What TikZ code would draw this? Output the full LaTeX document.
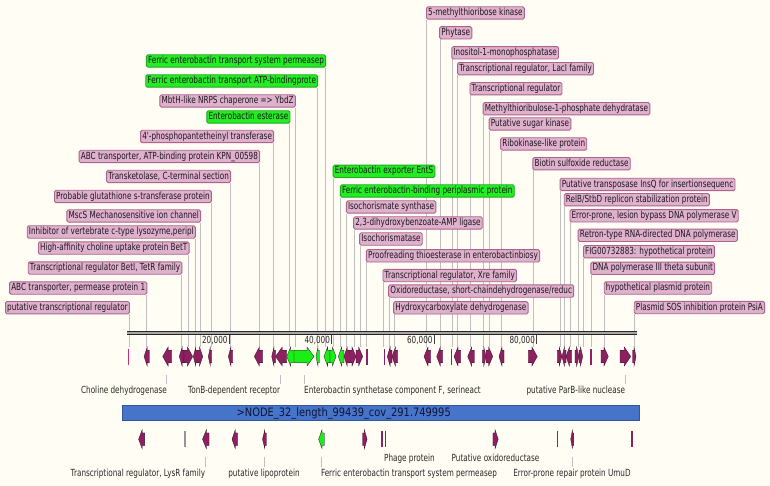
\documentclass[tikz,border=0pt]{standalone}
\usepackage{fontspec}
\newfontfamily\labfont{DejaVu Sans}[FakeStretch=0.74]
\newfontfamily\barfont{DejaVu Sans}[FakeStretch=0.85]
\definecolor{bg}{RGB}{255,253,244}
\definecolor{pinkfill}{RGB}{222,178,204}
\definecolor{pinkborder}{RGB}{172,98,138}
\definecolor{greenfill}{RGB}{34,236,34}
\definecolor{greenborder}{RGB}{30,170,30}
\definecolor{labtext}{RGB}{30,20,30}
\definecolor{genemag}{RGB}{140,32,96}
\definecolor{genepink}{RGB}{205,45,115}
\definecolor{genegreen}{RGB}{25,238,25}
\definecolor{genegray}{RGB}{150,150,150}
\definecolor{connc}{RGB}{192,192,192}
\definecolor{barblue}{RGB}{70,116,200}
\definecolor{barborder}{RGB}{50,85,160}
\definecolor{bartext}{RGB}{15,20,55}
\definecolor{trk}{RGB}{40,40,40}
\pgfdeclarelayer{back}
\pgfdeclarelayer{lines}
\pgfsetlayers{back,lines,main}
\tikzset{
  lab/.style={draw=pinkborder, fill=pinkfill, rounded corners=1.5pt, line width=0.9pt,
    inner xsep=1.7pt, inner ysep=1.6pt, text height=7.2pt, text depth=2pt,
    font=\labfont\fontsize{9.8}{11}\selectfont, text=labtext},
  grn/.style={draw=greenborder, fill=greenfill},
  conn/.style={draw=connc, line width=0.9pt},
  tlab/.style={inner sep=0pt, text height=7.2pt, text depth=2pt,
    font=\labfont\fontsize{9.8}{11}\selectfont, text=trk},
  gene/.style={draw=black!60!genemag, line width=0.3pt},
  tickline/.style={draw=black!75, line width=0.9pt},
}
% upper labels: line drops from right end / left end of box
\newcommand{\ulabE}[5]{%
  \node[lab,#4,anchor=east] (#1) at ({#2+0.8},#3) {#5};
  \coordinate (#1g) at (#2,347);
  \begin{pgfonlayer}{lines}\draw[conn] (#1.south east -| #1g) -- (#1g);\end{pgfonlayer}}
\newcommand{\ulabW}[5]{%
  \node[lab,#4,anchor=west] (#1) at ({#2-0.8},#3) {#5};
  \coordinate (#1g) at (#2,347);
  \begin{pgfonlayer}{lines}\draw[conn] (#1.south west -| #1g) -- (#1g);\end{pgfonlayer}}
% genes
\newcommand{\gR}[4]{%
  \pgfmathsetmacro{\ghl}{min(7,0.6*(#2-#1))}%
  \pgfmathsetmacro{\gm}{#2-\ghl}%
  \filldraw[gene,fill=#4] (#1,#3-6.3) -- (\gm,#3-6.3) -- (\gm,#3-9.5) -- (#2,#3) -- (\gm,#3+9.5) -- (\gm,#3+6.3) -- (#1,#3+6.3) -- cycle;}
\newcommand{\gL}[4]{%
  \pgfmathsetmacro{\ghl}{min(7,0.6*(#2-#1))}%
  \pgfmathsetmacro{\gm}{#1+\ghl}%
  \filldraw[gene,fill=#4] (#2,#3-6.3) -- (\gm,#3-6.3) -- (\gm,#3-9.5) -- (#1,#3) -- (\gm,#3+9.5) -- (\gm,#3+6.3) -- (#2,#3+6.3) -- cycle;}
\newcommand{\gT}[3]{%
  \fill[#3] ({#1-0.8},#2-8) rectangle ({#1+0.8},#2+8);}
\begin{document}
\begin{tikzpicture}[x=1pt,y=-1pt]
\useasboundingbox (0,0) rectangle (770,486);
\begin{pgfonlayer}{back}
\fill[bg] (0,0) rectangle (770,486);
\end{pgfonlayer}

% ---------- upper labels, left group ----------
\ulabE{a1}{129}{307.7}{}{putative transcriptional regulator}
\ulabE{a2}{146.5}{288}{}{ABC transporter, permease protein 1}
\ulabE{a3}{181.5}{268}{}{Transcriptional regulator BetI, TetR family}
\ulabE{a4}{188.7}{248}{}{High-affinity choline uptake protein BetT}
\ulabE{a5}{195}{232}{}{Inhibitor of vertebrate c-type lysozyme,peripl}
\ulabE{a6}{200.3}{216}{}{MscS Mechanosensitive ion channel}
\ulabE{a7}{211}{196.5}{}{Probable glutathione s-transferase protein}
\ulabE{a8}{230.3}{176.5}{}{Transketolase, C-terminal section}
\ulabE{a9}{259.3}{156.5}{}{ABC transporter, ATP-binding protein KPN\_00598}
\ulabE{a10}{273.3}{136.5}{}{4'-phosphopantetheinyl transferase}
\ulabE{a11}{289.6}{117}{grn}{Enterobactin esterase}
\ulabE{a12}{295}{101}{}{MbtH-like NRPS chaperone => YbdZ}
\ulabE{a13}{317.3}{81}{grn}{Ferric enterobactin transport ATP-bindingprote}
\ulabE{a14}{325.3}{61}{grn}{Ferric enterobactin transport system permeasep}

% ---------- upper labels, middle group ----------
\ulabW{b1}{333.5}{171.3}{grn}{Enterobactin exporter EntS}
\ulabW{b2}{340.7}{191}{grn}{Ferric enterobactin-binding periplasmic protein}
\ulabW{b3}{346.7}{207}{}{Isochorismate synthase}
\ulabW{b4}{354}{223}{}{2,3-dihydroxybenzoate-AMP ligase}
\ulabW{b5}{360}{239}{}{Isochorismatase}
\ulabW{b6}{366.7}{255.8}{}{Proofreading thioesterase in enterobactinbiosy}
\ulabW{b7}{383.3}{275.5}{}{Transcriptional regulator, Xre family}
\ulabW{b8}{389}{291}{}{Oxidoreductase, short-chaindehydrogenase/reduc}
\ulabW{b9}{394}{307.8}{}{Hydroxycarboxylate dehydrogenase}

% ---------- upper labels, right group ----------
\ulabW{c1}{426.8}{13}{}{5-methylthioribose kinase}
\ulabW{c2}{440}{32.8}{}{Phytase}
\ulabW{c3}{452.2}{52.8}{}{Inositol-1-monophosphatase}
\ulabW{c4}{457.9}{68.7}{}{Transcriptional regulator, LacI family}
\ulabW{c5}{470.3}{88.7}{}{Transcriptional regulator}
\ulabW{c6}{483.5}{108.7}{}{Methylthioribulose-1-phosphate dehydratase}
\ulabW{c7}{489.5}{124}{}{Putative sugar kinase}
\ulabW{c8}{501}{144}{}{Ribokinase-like protein}
\ulabW{c9}{533.2}{163.7}{}{Biotin sulfoxide reductase}
\ulabW{c10}{560.4}{184.5}{}{Putative transposase InsQ for insertionsequenc}
\ulabW{c11}{564.6}{199.7}{}{RelB/StbD replicon stabilization protein}
\ulabW{c12}{570.3}{215.8}{}{Error-prone, lesion bypass DNA polymerase V}
\ulabW{c13}{578.5}{235.3}{}{Retron-type RNA-directed DNA polymerase}
\ulabW{c14}{583.8}{251.7}{}{FIG00732883: hypothetical protein}
\ulabW{c15}{591.2}{268.3}{}{DNA polymerase III theta subunit}
\ulabW{c16}{604.6}{288}{}{hypothetical plasmid protein}
\ulabW{c17}{634.6}{307.5}{}{Plasmid SOS inhibition protein PsiA}

% ---------- ruler ----------
\fill[black!35] (127,331.4) rectangle (637,334.9);
\draw[black!85, line width=1.1pt] (127,331.4) -- (637,331.4);
\draw[black!85, line width=1.1pt] (127,334.9) -- (637,334.9);
\foreach \tx/\tl in {229.3/{20,000}, 331.7/{40,000}, 434.3/{60,000}, 536.7/{80,000}}{
  \draw[tickline] (\tx,335) -- (\tx,343.5);
  \node[tlab,anchor=east] at ({\tx-1.6},340.6) {\tl};
}

% ---------- genes, upper row ----------
\gT{128.3}{356.5}{genepink}
\gL{144}{149.3}{356.5}{genemag}
\gL{162.7}{171.7}{356.5}{genemag}
\gL{179.3}{184}{356.5}{genemag}
\gR{184}{192.7}{356.5}{genemag}
\gL{193.3}{197.5}{356.5}{genemag}
\gR{197.5}{202.7}{356.5}{genemag}
\gL{208.3}{211.7}{356.5}{genemag}
\gL{228.3}{232.7}{356.5}{genemag}
\gL{254.3}{262.7}{356.5}{genemag}
\gL{271.7}{275.5}{356.5}{genemag}
\gL{275.5}{286.7}{356.5}{genemag}
\gL{286.7}{293.3}{356.5}{genegreen}
\gR{294}{314}{356.5}{genegreen}
\gL{316}{319.3}{356.5}{genegreen}
\gL{324}{330}{356.5}{genegreen}
\gR{330}{336}{356.5}{genegreen}
\gL{338.3}{344}{356.5}{genegreen}
\gL{344}{349.3}{356.5}{genemag}
\gR{349.3}{356}{356.5}{genemag}
\gR{356}{362.7}{356.5}{genemag}
\gT{367}{356.5}{genemag}
\gT{384.3}{356.5}{genemag}
\gL{387.3}{392}{356.5}{genemag}
\gL{392}{397.7}{356.5}{genemag}
\gL{424}{430.7}{356.5}{genemag}
\gL{436.7}{442.7}{356.5}{genemag}
\gT{451.5}{356.5}{genemag}
\gL{454}{460.7}{356.5}{genemag}
\gL{467.7}{474.3}{356.5}{genemag}
\gR{482.3}{486}{356.5}{genemag}
\gR{486}{492.7}{356.5}{genemag}
\gL{499}{504}{356.5}{genemag}
\gR{528.3}{537.3}{356.5}{genemag}
\gR{557.3}{562}{356.5}{genemag}
\gL{562}{566}{356.5}{genemag}
\gL{566}{571.7}{356.5}{genemag}
\gR{575}{579}{356.5}{genemag}
\gR{579}{582.7}{356.5}{genemag}
\gT{591.2}{356.5}{genemag}
\gR{601}{608.3}{356.5}{genemag}
\gR{620}{630.7}{356.5}{genemag}
\gR{632.7}{636}{356.5}{genemag}

% ---------- upper track labels ----------
\node[tlab,anchor=east] (t1) at (167,391) {Choline dehydrogenase};
\coordinate (t1g) at (166.7,375);
\draw[conn] (t1g) -- ([yshift=2pt]t1g |- t1.north);
\node[tlab,anchor=east] (t2) at (280.3,391) {TonB-dependent receptor};
\coordinate (t2g) at (280,375);
\draw[conn] (t2g) -- ([yshift=2pt]t2g |- t2.north);
\node[tlab,anchor=west] (t3) at (304,391) {Enterobactin synthetase component F, serineact};
\coordinate (t3g) at (304.3,375);
\draw[conn] (t3g) -- ([yshift=2pt]t3g |- t3.north);
\node[tlab,anchor=east] (t4) at (625.3,391) {putative ParB-like nuclease};
\coordinate (t4g) at (625,375);
\draw[conn] (t4g) -- ([yshift=2pt]t4g |- t4.north);

% ---------- contig bar ----------
\fill[barblue] (122.7,405) rectangle (639.3,420.7);
\draw[barborder, line width=0.6pt] (122.7,405) rectangle (639.3,420.7);
\node[inner sep=0pt, anchor=west, text=bartext, font=\barfont\fontsize{11.6}{13}\selectfont] (contig) at (236.5,413) {>NODE\_32\_length\_99439\_cov\_291.749995};

% ---------- genes, lower row ----------
\gL{138.6}{144.6}{439.2}{genemag}
\gT{184.8}{439.2}{genegray}
\gL{202.5}{209}{439.2}{genemag}
\gL{232}{237.5}{439.2}{genemag}
\gL{262.5}{266.4}{439.2}{genemag}
\gL{318.6}{324.3}{439.2}{genegreen}
\gR{362.5}{367.1}{439.2}{genemag}
\gT{382}{439.2}{genemag}
\gT{385.3}{439.2}{genemag}
\gR{492.9}{498.2}{439.2}{genemag}
\gT{557.5}{439.2}{genemag}
\gL{570.7}{573.6}{439.2}{genemag}
\gT{631.8}{439.2}{genemag}

% ---------- lower track labels ----------
\node[tlab,anchor=east] (s1) at (205.3,474) {Transcriptional regulator, LysR family};
\coordinate (s1g) at (205,456.7);
\draw[conn] (s1g) -- ([yshift=2pt]s1g |- s1.north);
\node[tlab,anchor=center] (s2) at (264,474) {putative lipoprotein};
\coordinate (s2g) at (264,456.7);
\draw[conn] (s2g) -- ([yshift=2pt]s2g |- s2.north);
\node[tlab,anchor=west] (s3) at (320.8,474) {Ferric enterobactin transport system permeasep};
\coordinate (s3g) at (321,456.7);
\draw[conn] (s3g) -- ([yshift=2pt]s3g |- s3.north);
\node[tlab,anchor=west] (s4) at (384,459.3) {Phage protein};
\node[tlab,anchor=center] (s5) at (495.5,459.3) {Putative oxidoreductase};
\node[tlab,anchor=center] (s6) at (572,474) {Error-prone repair protein UmuD};
\coordinate (s6g) at (572,456.7);
\draw[conn] (s6g) -- ([yshift=2pt]s6g |- s6.north);
\end{tikzpicture}
\end{document}
